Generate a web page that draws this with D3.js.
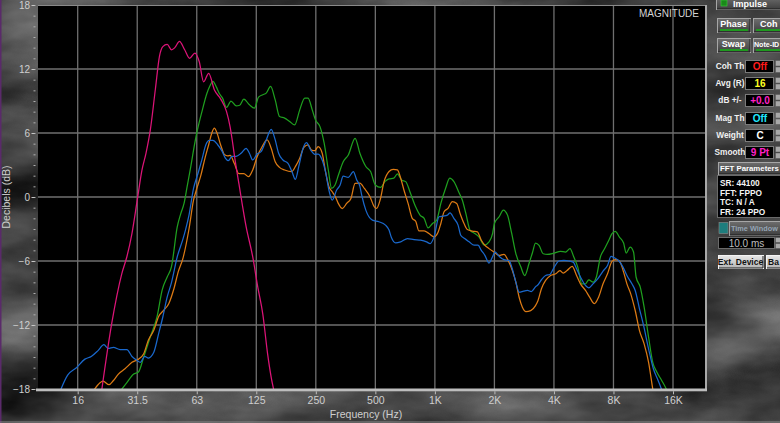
<!DOCTYPE html>
<html><head><meta charset="utf-8">
<script src="https://cdn.jsdelivr.net/npm/d3@7/dist/d3.min.js"></script>
<style>html,body{margin:0;padding:0;background:#3a3a3a;overflow:hidden}svg{display:block}</style>
</head><body><svg id="c" width="780" height="423"></svg>
<script>
// ---------- data ----------
const xTickValues = [15.625, 31.25, 62.5, 125, 250, 500, 1000, 2000, 4000, 8000, 16000];
const xTickLabels = ["16", "31.5", "63", "125", "250", "500", "1K", "2K", "4K", "8K", "16K"];
const yTickValues = [-18, -12, -6, 0, 6, 12, 18];

// [frequency Hz, level dB]
const magentaSeries = [[20.6,-18.3],[23.2,-11.9],[26.1,-7.2],[27.7,-5.6],[29.4,-3.4],[31.25,-0.3],[33.0,2.5],[34.6,4.1],[36.4,6.3],[38.6,10.1],[40.5,13.2],[42.1,14.1],[44.3,14.3],[46.6,13.8],[48.4,14.0],[51.1,14.6],[54.3,13.8],[57.5,13.0],[61.2,13.5],[64.3,12.7],[67.7,10.8],[71.8,11.6],[76.9,10.0],[82.5,9.2],[88.4,8.0],[92.1,6.6],[94.7,5.2],[96.7,4.0],[102.2,1.2],[111.1,-2.8],[119.9,-5.6],[127.2,-8.45],[134.9,-11.0],[142.6,-14.7],[148.7,-16.9],[153.5,-18.2],[157,-19.3]];

const greenSeries = [[25.9,-18.1],[27.7,-17.4],[30.0,-16.6],[31.7,-16.4],[33.7,-15.0],[36.4,-13.1],[39.4,-11.2],[41.8,-8.7],[44.3,-7.5],[46.6,-6.5],[49.8,-2.8],[51.8,-1.6],[53.9,-0.6],[55.9,1.0],[58.3,2.85],[60.6,4.7],[62.5,6.0],[66.8,8.2],[70.3,9.7],[72.8,10.4],[75.4,10.85],[78.6,10.3],[81.3,9.7],[84.4,9.27],[88.4,8.4],[93.1,9.0],[98.8,8.55],[103,8.6],[108.1,9.18],[115.4,8.64],[122.4,8.33],[128.3,9.37],[134.9,9.59],[140.3,9.74],[147.6,10.37],[155.8,9.1],[163.8,7.55],[173.9,7.4],[184.3,7.08],[195.5,6.76],[207.3,8.17],[219.8,9.27],[228.5,9.27],[239.8,8.17],[249,7.23],[262.4,6.6],[275.5,5.04],[289.2,2.53],[300.4,0.8],[312.1,1.1],[325.3,2.06],[343.9,3.3],[365,3.94],[395,5.5],[417.6,4.1],[447.5,2.86],[473,2.39],[500,1.13],[532.2,0.9],[558.7,1.44],[586.4,1.7],[619.9,1.76],[646.2,2.17],[678.3,1.6],[712,1.44],[752.6,0.35],[798.3,-0.9],[840.9,-1.7],[882.7,-2.0],[924,-2.9],[972.7,-2.48],[1021,-2.17],[1072,-0.6],[1133,0.82],[1189,1.76],[1248,1.44],[1329,0.35],[1376,-0.28],[1434,-1.54],[1505,-3.1],[1591,-3.42],[1670,-3.74],[1778,-4.5],[1879,-4.2],[1959,-3.4],[2000,-2.48],[2113,-1.85],[2219,-1.22],[2330,-1.7],[2446,-3.42],[2567,-5.3],[2713,-6.5],[2848,-7.36],[2990,-6.26],[3117,-5.2],[3227,-4.32],[3364,-4.54],[3531,-5.32],[3705,-5.38],[4000,-5.26],[4317,-5.1],[4579,-5.16],[4823,-4.85],[5042,-5.63],[5278,-6.57],[5540,-8.14],[5776,-8.14],[6000,-7.76],[6307,-7.98],[6557,-7.5],[6868,-5.63],[7210,-4.85],[7568,-4.07],[7864,-3.44],[8168,-3.22],[8574,-3.76],[9001,-4.32],[9279,-5.26],[9714,-4.7],[10105,-5.16],[10410,-7.5],[10928,-8.45],[11432,-10.33],[12042,-13.15],[12640,-15.5],[13270,-16.43],[14026,-17.2],[14867,-18.1],[15455,-19]];

const orangeSeries = [[18.9,-18.1],[19.8,-17.6],[21.0,-17.26],[22.5,-17.6],[23.7,-17.2],[25.1,-16.6],[27.1,-16.1],[29.4,-15.5],[31.7,-15.2],[33.7,-14.7],[35.6,-13.4],[37.9,-12.5],[40.1,-11.2],[42.6,-10.6],[45.1,-10.0],[47.9,-8.6],[50.4,-7.0],[53.3,-5.7],[57.1,-3.0],[60.2,-0.3],[62.3,0.7],[65.5,2.0],[68.9,3.7],[71.8,4.9],[74.5,6.0],[76.7,6.45],[79.1,6.0],[82.8,4.8],[86.1,4.0],[89.6,3.85],[92.3,3.9],[96.7,3.16],[102,2.2],[108.1,2.2],[114.1,1.9],[119.9,2.53],[126.2,3.78],[133.3,4.66],[141.9,5.35],[148.7,4.57],[155.8,3.31],[163.8,2.78],[173.9,2.53],[188.2,2.37],[197,2.84],[207.3,3.63],[217.6,4.66],[228.5,4.88],[237.7,4.4],[247.1,4.35],[257,4.72],[269.3,4.1],[279.9,2.37],[291.2,0.96],[302.7,0.49],[314.3,0.0],[324.7,-0.6],[340.3,-1.08],[358,-0.6],[376.3,-0.13],[395,1.27],[417.6,1.3],[440.1,0.8],[469.8,0.03],[493.1,-0.9],[507,-1.07],[528.5,-0.28],[553.3,1.44],[586.4,2.39],[615.6,2.6],[646.2,2.54],[671.8,1.76],[697.4,0.66],[732,-0.6],[768.5,-2.0],[801,-2.3],[829.4,-3.17],[882.7,-3.17],[933,-3.42],[990.4,-3.74],[1035,-3.36],[1072,-2.48],[1113,-1.38],[1165,-1.07],[1226,-0.44],[1290,-0.6],[1341,-1.54],[1404,-2.48],[1460,-3.05],[1548,-3.2],[1640,-3.27],[1717,-4.05],[1790,-4.52],[1879,-4.84],[1986,-5.15],[2113,-5.47],[2235,-5.37],[2346,-5.94],[2462,-6.88],[2567,-7.98],[2667,-9.4],[2770,-10.33],[2888,-10.74],[3053,-10.65],[3227,-10.18],[3324,-9.7],[3458,-8.6],[3630,-7.82],[3848,-7.36],[4084,-7.2],[4287,-6.9],[4457,-7.14],[4659,-6.9],[4945,-6.5],[5205,-7.36],[5449,-8.14],[5776,-8.76],[6063,-9.39],[6408,-10.0],[6727,-9.39],[7086,-8.14],[7464,-7.2],[7864,-6.04],[8168,-5.88],[8574,-6.0],[9001,-7.04],[9357,-8.14],[9781,-9.08],[10303,-10.64],[10830,-12.52],[11432,-13.77],[12042,-15.5],[12640,-18.0],[12906,-19]];

const blueSeries = [[12.26,-19],[12.8,-18.1],[13.9,-16.7],[15.4,-16.0],[17.0,-15.2],[18.3,-14.95],[19.8,-14.4],[21.2,-13.85],[22.3,-14.2],[23.7,-14.1],[25.6,-14.3],[27.7,-14.3],[29.4,-14.95],[31.1,-15.3],[32.4,-15.5],[34.1,-14.95],[35.6,-15.1],[37.9,-14.56],[40.1,-12.8],[42.1,-11.25],[44.3,-9.37],[46.6,-8.0],[49.8,-5.6],[53.3,-3.9],[54.8,-3.1],[57.1,-1.7],[60.2,0.8],[63.4,2.2],[66.3,3.48],[69.5,4.9],[72.3,5.3],[75.4,5.3],[79.7,4.9],[83.9,4.3],[87.2,3.64],[90.3,3.4],[94.1,3.8],[98.8,3.8],[104.7,4.1],[111,4.57],[115.4,4.1],[119.9,3.47],[126.2,4.03],[132.1,4.25],[140.3,5.35],[148.7,6.35],[155.8,5.35],[162.1,4.1],[170.5,3.47],[180.8,3.16],[189.5,2.37],[197,1.65],[204.9,2.84],[215.5,4.57],[224.1,5.1],[235.7,4.4],[247.1,4.0],[257,4.03],[269.3,3.47],[279.9,2.37],[291.2,0.65],[302.7,-0.3],[318.7,0.65],[331.3,1.1],[343.9,1.96],[365,1.84],[386.9,2.37],[402.5,1.6],[417.6,1.0],[426.3,0.2],[447.5,-1.23],[483,-2.17],[521.2,-2.32],[562.6,-2.64],[586.4,-3.1],[602.9,-3.8],[632.9,-4.3],[671.8,-4.2],[727,-3.9],[784.6,-4.0],[846.8,-4.05],[907.5,-4.2],[946,-4.37],[990.4,-3.74],[1050,-1.85],[1102,-1.79],[1157,-1.7],[1193,-1.48],[1248,-2.0],[1310,-2.64],[1351,-3.58],[1414,-3.9],[1489,-4.2],[1580,-4.52],[1653,-4.52],[1717,-5.0],[1790,-5.47],[1879,-6.19],[1954,-5.63],[2014,-5.15],[2113,-5.56],[2235,-5.88],[2372,-5.94],[2462,-6.73],[2567,-7.98],[2667,-8.92],[2809,-8.83],[2938,-8.76],[3074,-8.86],[3238,-8.39],[3294,-8.3],[3458,-7.76],[3630,-7.36],[3818,-7.26],[4000,-6.63],[4240,-6.0],[4491,-5.95],[4757,-6.0],[5004,-6.1],[5205,-6.73],[5449,-7.5],[5776,-8.3],[6000,-8.51],[6307,-8.14],[6658,-7.67],[7086,-6.95],[7464,-6.42],[7781,-5.57],[8078,-5.7],[8491,-5.95],[8938,-6.57],[9357,-7.36],[9918,-8.14],[10303,-8.76],[10830,-10.48],[11314,-11.9],[12042,-14.24],[12730,-16.1],[13362,-17.06],[14026,-18.1],[14420,-19]];

const seriesList = [
  {data: greenSeries, color: "#1f9f1f"},
  {data: orangeSeries, color: "#dc7a14"},
  {data: blueSeries, color: "#1a68cc"},
  {data: magentaSeries, color: "#dc1478"}
];

const panelRows = [
  {label: "Coh Th", value: "Off", color: "#ff1a1a"},
  {label: "Avg (R)", value: "16", color: "#ffff20"},
  {label: "dB +/-", value: "+0.0", color: "#ff20c8"},
  {label: "Mag Th", value: "Off", color: "#20e8ff"},
  {label: "Weight", value: "C", color: "#ffffff"},
  {label: "Smooth", value: "9 Pt", color: "#ff20c8"}
];
const fftInfo = ["SR: 44100", "FFT: FPPO", "TC: N / A", "FR: 24 PPO"];

// ---------- drawing ----------
const W = 780, H = 423;
const PL = 38, PR = 706, PT = 5, PB = 389;
const svg = d3.select("#c");
const defs = svg.append("defs");
const FONT = "'Liberation Sans', Arial, sans-serif";

const flt = defs.append("filter").attr("id", "marble").attr("x", 0).attr("y", 0).attr("width", W).attr("height", H)
  .attr("filterUnits", "userSpaceOnUse").attr("color-interpolation-filters", "sRGB");
flt.append("feTurbulence").attr("type", "fractalNoise").attr("baseFrequency", "0.006 0.014").attr("numOctaves", 5).attr("seed", 11);
flt.append("feColorMatrix").attr("type", "matrix")
  .attr("values", "0.6 0 0 0 -0.04  0.6 0 0 0 -0.04  0.6 0 0 0 -0.04  0 0 0 0 1");
svg.append("rect").attr("width", W).attr("height", H).attr("fill", "#3a3a3a");
svg.append("rect").attr("width", W).attr("height", H).attr("filter", "url(#marble)");
svg.append("rect").attr("x", 0).attr("y", 0).attr("width", 1.5).attr("height", H).attr("fill", "#5a2a6a");

const x = d3.scaleLog().domain([9.842, 23496]).range([PL, PR]);
const y = d3.scaleLinear().domain([-18, 18]).range([PB, PT]);

svg.append("rect").attr("x", PL).attr("y", PT).attr("width", PR - PL).attr("height", PB - PT).attr("fill", "#000");

// grid
const grid = svg.append("g").attr("stroke", "#6f6f6f").attr("stroke-width", 1.3);
grid.selectAll("line.v").data(xTickValues).join("line")
  .attr("x1", d => x(d)).attr("x2", d => x(d)).attr("y1", PT).attr("y2", PB);
grid.selectAll("line.h").data(yTickValues.filter(v => v > -18 && v < 18)).join("line")
  .attr("x1", PL).attr("x2", PR).attr("y1", d => y(d)).attr("y2", d => y(d));
svg.append("line").attr("x1", PL).attr("x2", PR).attr("y1", PT + 0.5).attr("y2", PT + 0.5).attr("stroke", "#8a8a8a").attr("stroke-width", 1);
svg.append("line").attr("x1", PR).attr("x2", PR).attr("y1", PT).attr("y2", PB + 2).attr("stroke", "#a8a8a8").attr("stroke-width", 2);

// curves
defs.append("clipPath").attr("id", "plotclip").append("rect")
  .attr("x", PL).attr("y", PT).attr("width", PR - PL).attr("height", PB - PT);
const line = d3.line().x(d => x(d[0])).y(d => y(d[1])).curve(d3.curveMonotoneX);
svg.append("g").attr("clip-path", "url(#plotclip)")
  .selectAll("path").data(seriesList).join("path")
  .attr("d", d => line(d.data)).attr("fill", "none").attr("stroke", d => d.color)
  .attr("stroke-width", 1.25).attr("stroke-linejoin", "round");

// bottom bar
svg.append("rect").attr("x", 36).attr("y", PB - 0.5).attr("width", PR - 36 + 1).attr("height", 2.8).attr("fill", "#bdbdbd");

// x axis
const xAxis = svg.append("g").attr("transform", `translate(0,${PB + 2.3})`)
  .call(d3.axisBottom(x).tickValues(xTickValues).tickFormat((d, i) => xTickLabels[i]).tickSize(3).tickPadding(2));
xAxis.select(".domain").remove();
xAxis.selectAll("line").attr("stroke", "#bdbdbd");
xAxis.selectAll("text").attr("fill", "#cfcfcf").style("font-family", FONT).style("font-size", "10.5px");

// y axis (major + minor)
const yMinor = svg.append("g").attr("transform", "translate(35.5,0)")
  .call(d3.axisLeft(y).ticks(36).tickSize(2).tickFormat(""));
yMinor.select(".domain").remove();
yMinor.selectAll("line").attr("stroke", "#b0b0b0");
const yAxis = svg.append("g").attr("transform", "translate(34.5,0)")
  .call(d3.axisLeft(y).tickValues(yTickValues).tickSize(3).tickPadding(1.5));
yAxis.select(".domain").remove();
yAxis.selectAll("line").attr("stroke", "#c8c8c8");
yAxis.selectAll("text").attr("fill", "#cfcfcf").style("font-family", FONT).style("font-size", "10px");

svg.append("text").attr("transform", `translate(10,${y(0)}) rotate(-90)`).attr("text-anchor", "middle")
  .attr("fill", "#cfcfcf").style("font-family", FONT).style("font-size", "10.5px").text("Decibels (dB)");
svg.append("text").attr("x", 366).attr("y", 418).attr("text-anchor", "middle")
  .attr("fill", "#cfcfcf").style("font-family", FONT).style("font-size", "10.5px").text("Frequency (Hz)");
svg.append("text").attr("x", 699).attr("y", 16.5).attr("text-anchor", "end")
  .attr("fill", "#d4d4d4").style("font-family", FONT).style("font-size", "10px").text("MAGNITUDE");
svg.append("line").attr("x1", 0).attr("x2", W).attr("y1", 422).attr("y2", 422).attr("stroke", "#8a8a8a");

// ---------- right control panel ----------
const grad = defs.append("linearGradient").attr("id", "btn").attr("x1", 0).attr("y1", 0).attr("x2", 0).attr("y2", 1);
grad.append("stop").attr("offset", 0).attr("stop-color", "#6e6e6e");
grad.append("stop").attr("offset", 1).attr("stop-color", "#3e3e3e");
const grad2 = defs.append("linearGradient").attr("id", "btnL").attr("x1", 0).attr("y1", 0).attr("x2", 0).attr("y2", 1);
grad2.append("stop").attr("offset", 0).attr("stop-color", "#e8e8e8");
grad2.append("stop").attr("offset", 1).attr("stop-color", "#b4b4b4");

const panel = svg.append("g").style("font-family", FONT).style("font-weight", "bold");
function button(x0, y0, w, h, label, opt = {}) {
  const g = panel.append("g");
  g.append("rect").attr("x", x0 + 0.5).attr("y", y0 + 0.5).attr("width", w).attr("height", h)
    .attr("fill", opt.light ? "url(#btnL)" : "url(#btn)").attr("stroke", opt.light ? "#f4f4f4" : "#a6a6a6");
  g.append("line").attr("x1", x0 + 1).attr("x2", x0 + w).attr("y1", y0 + h).attr("y2", y0 + h).attr("stroke", "#1e1e1e");
  g.append("line").attr("x1", x0 + w).attr("x2", x0 + w).attr("y1", y0 + 1).attr("y2", y0 + h).attr("stroke", "#1e1e1e");
  if (opt.bar) g.append("rect").attr("x", x0 + 3).attr("y", y0 + h - 3).attr("width", w - 5).attr("height", 2).attr("fill", "#1f9a1f");
  g.append("text").attr("x", opt.tx !== undefined ? opt.tx : x0 + w / 2).attr("y", opt.ty || (y0 + h / 2 + 3))
    .attr("text-anchor", opt.tx !== undefined ? "start" : "middle")
    .attr("fill", opt.fill || "#ffffff").style("font-size", (opt.fs || 9.5) + "px").text(label);
}
function spinner(x0, y0, h) {
  panel.append("rect").attr("x", x0).attr("y", y0).attr("width", 6).attr("height", h / 2 - 0.5).attr("fill", "#a8a8a8").attr("stroke", "#555").attr("stroke-width", 0.5);
  panel.append("rect").attr("x", x0).attr("y", y0 + h / 2 + 0.5).attr("width", 6).attr("height", h / 2 - 0.5).attr("fill", "#a8a8a8").attr("stroke", "#555").attr("stroke-width", 0.5);
}

button(716, -4, 66, 13, "Impulse", {ty: 7, tx: 733, fs: 9});
panel.append("rect").attr("x", 721).attr("y", 0).attr("width", 6).attr("height", 6).attr("fill", "#1a8a1a").attr("stroke", "#3acd3a").attr("stroke-width", 0.6);
button(717, 18, 33, 14, "Phase", {bar: true, ty: 27, fs: 9});
button(753, 18, 30, 14, "Coh", {bar: true, ty: 27, tx: 760, fs: 9});
button(717, 38, 33, 14, "Swap", {bar: true, ty: 47, fs: 9});
button(753, 38, 30, 14, "Note-ID", {bar: true, ty: 47, tx: 754, fs: 7.1});

const rowY = [60, 77, 94, 112, 129, 146];
panelRows.forEach((r, i) => {
  const y0 = rowY[i];
  panel.append("text").attr("x", 730).attr("y", y0 + 9).attr("text-anchor", "middle").attr("fill", "#f0f0f0").style("font-size", "8.3px").text(r.label);
  panel.append("rect").attr("x", 745.5).attr("y", y0 + 0.5).attr("width", 28).attr("height", 12).attr("fill", "#000").attr("stroke", "#7a7a7a");
  panel.append("text").attr("x", 760).attr("y", y0 + 10).attr("text-anchor", "middle").attr("fill", r.color).style("font-size", "10px").text(r.value);
  spinner(775.5, y0 + 0.5, 12);
});

button(718, 162, 64, 12, "FFT Parameters", {ty: 171, tx: 720, fs: 7.8});
panel.append("rect").attr("x", 717.5).attr("y", 175.5).attr("width", 64).attr("height", 42).attr("fill", "#000").attr("stroke", "#6a6a6a");
panel.selectAll("text.info").data(fftInfo).join("text").attr("class", "info")
  .attr("x", 720).attr("y", (d, i) => 186 + i * 9.5).attr("fill", "#f4f4f4").style("font-size", "8.3px").text(d => d);

panel.append("rect").attr("x", 719).attr("y", 222.5).attr("width", 9).attr("height", 11).attr("fill", "#1e7d7d").attr("stroke", "#8a8a8a").attr("stroke-width", 0.6);
button(729, 221, 53, 14, "Time Window", {ty: 231, tx: 731, fill: "#95a5b5", fs: 7.3});
panel.append("rect").attr("x", 718.5).attr("y", 237.5).attr("width", 56).attr("height", 11).attr("fill", "#000").attr("stroke", "#6a6a6a");
panel.append("text").attr("x", 746.5).attr("y", 246.5).attr("text-anchor", "middle").attr("fill", "#bdbdbd").style("font-weight", "normal").style("font-size", "10px").text("10.0 ms");
spinner(775.5, 237.5, 11);
button(718, 255, 45, 13, "Ext. Device", {light: true, fill: "#111", ty: 265, fs: 8.5});
button(766, 255, 16, 13, "Ba", {light: true, fill: "#111", ty: 265, tx: 768, fs: 8.5});
</script></body></html>
